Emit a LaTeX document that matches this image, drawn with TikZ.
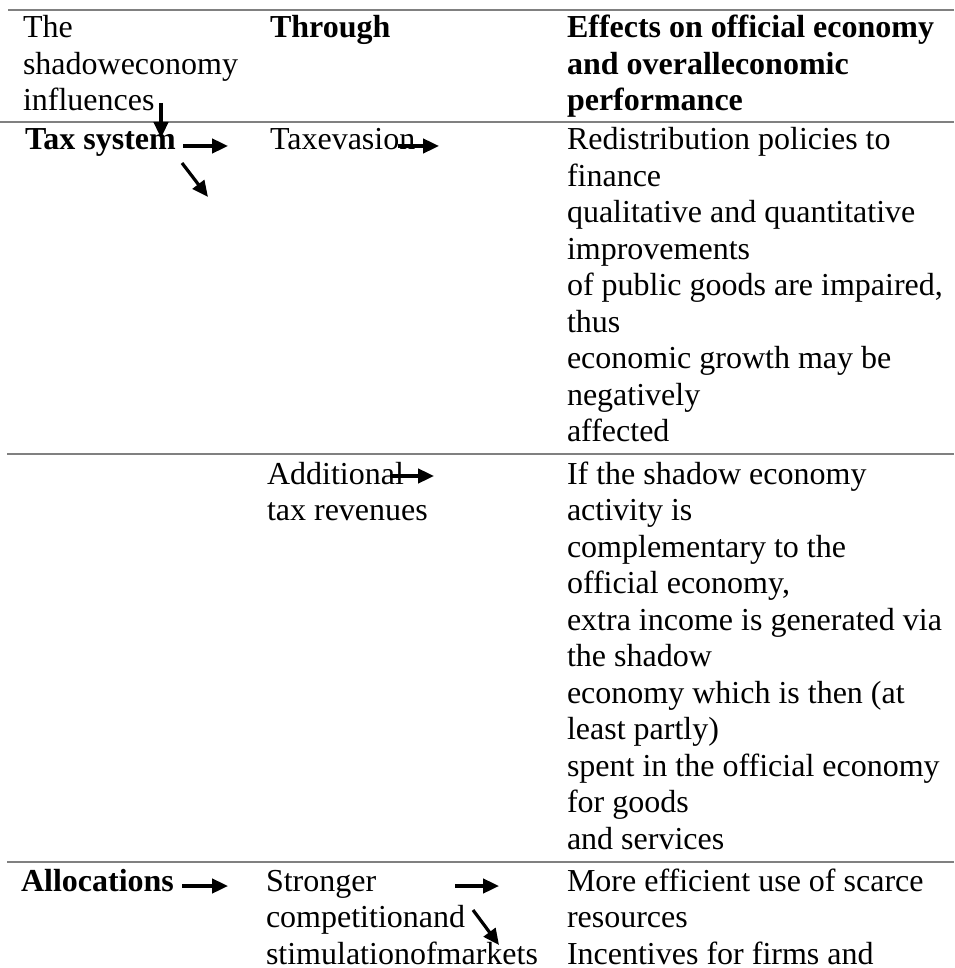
\documentclass[tikz,border=0pt]{standalone}
\usepackage{fontspec}
\setmainfont{Liberation Serif}
\usetikzlibrary{arrows.meta}
\definecolor{rulegray}{RGB}{128,128,128}
\tikzset{
  cell/.style={anchor=base west, inner sep=0pt, outer sep=0pt, font=\fontsize{12}{13.6875}\selectfont},
  rulel/.style={draw=rulegray, line width=0.75pt},
  arr/.style={line width=1.2pt, -{Triangle[length=6pt,width=5.4pt]}},
}
\newcommand{\cellt}[1]{\begin{tabular}[t]{@{}l@{}}#1\end{tabular}}
\begin{document}
\begin{tikzpicture}[x=0.375pt,y=-0.375pt]
\useasboundingbox (0,0) rectangle (954,968);
% rules
\coordinate (r1a) at (8,10);   \coordinate (r1b) at (954,10);
\coordinate (r2a) at (0,122);  \coordinate (r2b) at (954,122);
\coordinate (r3a) at (7,454);  \coordinate (r3b) at (954,454);
\coordinate (r4a) at (7,862);  \coordinate (r4b) at (954,862);
\draw[rulel] (r1a) -- (r1b);
\draw[rulel] (r2a) -- (r2b);
\draw[rulel] (r3a) -- (r3b);
\draw[rulel] (r4a) -- (r4b);
% header
\node[cell] (h1) at (23,38) {\cellt{The\\shadoweconomy\\influences}};
\node[cell] (h2) at (270,38) {\cellt{\textbf{Through}}};
\node[cell] (h3) at (567,38) {\cellt{\textbf{Effects on official economy}\\\textbf{and overalleconomic}\\\textbf{performance}}};
% row 1
\node[cell] (tax) at (25,150) {\cellt{\textbf{Tax system}}};
\node[cell] (eva) at (270,150) {\cellt{Taxevasion}};
\node[cell] (eff1) at (567,150) {\cellt{Redistribution policies to\\finance\\qualitative and quantitative\\improvements\\of public goods are impaired,\\thus\\economic growth may be\\negatively\\affected}};
% row 2
\node[cell] (add) at (267,484) {\cellt{Additional\\tax revenues}};
\node[cell] (eff2) at (567,484) {\cellt{If the shadow economy\\activity is\\complementary to the\\official economy,\\extra income is generated via\\the shadow\\economy which is then (at\\least partly)\\spent in the official economy\\for goods\\and services}};
% row 3
\node[cell] (alloc) at (21,891) {\cellt{\textbf{Allocations}}};
\node[cell] (comp) at (266,891) {\cellt{Stronger\\competitionand\\stimulationofmarkets}};
\node[cell] (eff3) at (567,891) {\cellt{More efficient use of scarce\\resources\\Incentives for firms and}};
% arrows
\coordinate (a1s) at (161,103); \coordinate (a1e) at (161,138);
\coordinate (a2s) at (183,146); \coordinate (a2e) at (228,146);
\coordinate (a3s) at (182,163); \coordinate (a3e) at (208,197);
\coordinate (a4s) at (398,146); \coordinate (a4e) at (439,146);
\coordinate (a5s) at (390,476); \coordinate (a5e) at (434,476);
\coordinate (a6s) at (182,886); \coordinate (a6e) at (228,886);
\coordinate (a7s) at (455,886); \coordinate (a7e) at (499,886);
\coordinate (a8s) at (473,910); \coordinate (a8e) at (499,945);
\draw[arr] (a1s) -- (a1e);
\draw[arr] (a2s) -- (a2e);
\draw[arr] (a3s) -- (a3e);
\draw[arr] (a4s) -- (a4e);
\draw[arr] (a5s) -- (a5e);
\draw[arr] (a6s) -- (a6e);
\draw[arr] (a7s) -- (a7e);
\draw[arr] (a8s) -- (a8e);
\end{tikzpicture}
\end{document}
